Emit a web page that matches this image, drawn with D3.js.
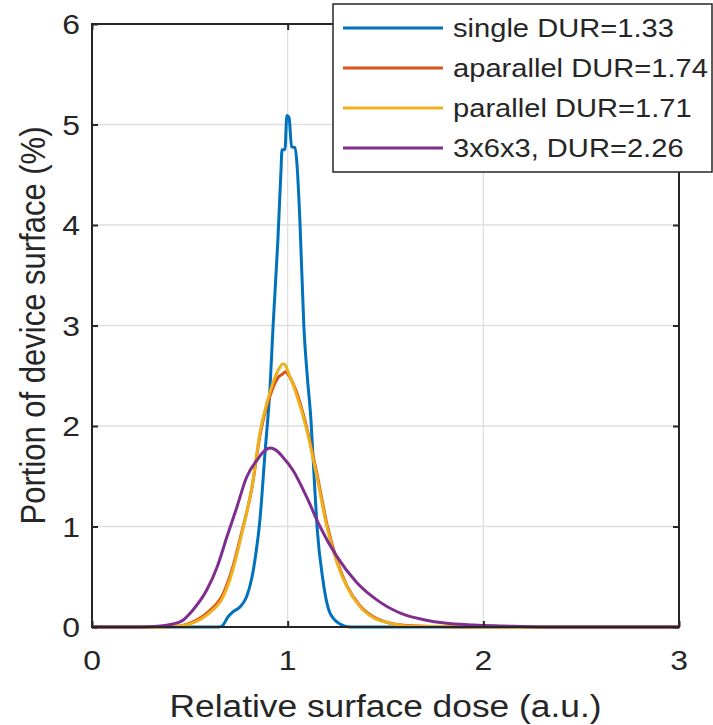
<!DOCTYPE html>
<html>
<head>
<meta charset="utf-8">
<script src="https://cdn.jsdelivr.net/npm/d3@7"></script>
<style>
  body { margin: 0; background: #fff; }
  svg text { font-family: "Liberation Sans", Arial, sans-serif; fill: #262626; }
</style>
</head>
<body>
<svg id="chart"></svg>
<script>
var margin = { top: 24, right: 34, bottom: 98, left: 92 },
    width = 713 - margin.left - margin.right,
    height = 725 - margin.top - margin.bottom;

// dose values (x) and portion (%) for each run
var singleX = [0, 0.65, 0.67, 0.695, 0.72, 0.756, 0.79, 0.817, 0.833, 0.858, 0.884, 0.91, 0.925, 0.95, 0.966, 0.971, 0.986, 0.996, 1.007, 1.02, 1.037, 1.047, 1.063, 1.083, 1.1, 1.119, 1.135, 1.15, 1.18, 1.216, 1.267, 1.32, 3];
var singleY = [0, 0, 0.02, 0.1, 0.15, 0.2, 0.3, 0.49, 0.67, 1.06, 1.73, 2.39, 2.98, 3.85, 4.55, 4.75, 4.75, 5.09, 5.07, 4.78, 4.77, 4.62, 4.02, 2.98, 2.5, 2.06, 1.5, 1.0, 0.47, 0.14, 0.03, 0, 0];

var aparX = [0, 0.35, 0.45, 0.516, 0.6, 0.67, 0.72, 0.766, 0.817, 0.858, 0.91, 0.95, 0.976, 0.99, 1.0, 1.037, 1.098, 1.15, 1.2, 1.252, 1.303, 1.37, 1.44, 1.52, 1.61, 1.75, 2.0, 3];
var aparY = [0, 0, 0.01, 0.05, 0.16, 0.33, 0.6, 0.95, 1.38, 1.9, 2.3, 2.48, 2.52, 2.54, 2.52, 2.38, 1.98, 1.52, 1.03, 0.66, 0.41, 0.21, 0.1, 0.04, 0.015, 0.005, 0, 0];

var parX = [0, 0.35, 0.45, 0.516, 0.6, 0.67, 0.72, 0.766, 0.817, 0.858, 0.91, 0.95, 0.976, 0.99, 1.0, 1.037, 1.098, 1.15, 1.2, 1.252, 1.303, 1.37, 1.44, 1.52, 1.61, 1.75, 2.0, 3];
var parY = [0, 0, 0.01, 0.04, 0.14, 0.3, 0.57, 0.93, 1.39, 1.93, 2.34, 2.55, 2.62, 2.6, 2.55, 2.36, 1.96, 1.49, 1.0, 0.64, 0.4, 0.2, 0.09, 0.04, 0.01, 0.004, 0, 0];

var gridX = [0, 0.25, 0.35, 0.45, 0.516, 0.587, 0.64, 0.69, 0.74, 0.79, 0.843, 0.88, 0.91, 0.94, 0.976, 1.027, 1.098, 1.165, 1.252, 1.354, 1.47, 1.6, 1.69, 1.8, 1.95, 2.1, 2.29, 3];
var gridY = [0, 0, 0.01, 0.05, 0.17, 0.37, 0.6, 0.9, 1.19, 1.49, 1.66, 1.75, 1.78, 1.76, 1.69, 1.56, 1.29, 1.0, 0.7, 0.44, 0.25, 0.12, 0.075, 0.04, 0.02, 0.01, 0, 0];

var names = ["single DUR=1.33", "aparallel DUR=1.74", "parallel DUR=1.71", "3x6x3, DUR=2.26"];
var colors = ["#0072bd", "#d95319", "#edb120", "#7e2f8e"];
var seriesX = [singleX, aparX, parX, gridX];
var seriesY = [singleY, aparY, parY, gridY];

var xTicks = [0, 1, 2, 3];
var yTicks = [0, 1, 2, 3, 4, 5, 6];

// the figure text is a bit wider than plain Arial
var stretch = 1.14;

var svg = d3.select("#chart")
    .attr("width", width + margin.left + margin.right)
    .attr("height", height + margin.top + margin.bottom);

var g = svg.append("g")
    .attr("transform", "translate(" + margin.left + "," + margin.top + ")");

var x = d3.scaleLinear().domain([0, 3]).range([0, width]);
var y = d3.scaleLinear().domain([0, 6]).range([height, 0]);

// grid
g.append("g").selectAll("line")
    .data(xTicks.slice(1, -1))
    .enter().append("line")
    .attr("x1", function(d) { return x(d); })
    .attr("x2", function(d) { return x(d); })
    .attr("y1", 0).attr("y2", height)
    .attr("stroke", "#dfdfdf").attr("stroke-width", 1.3);

g.append("g").selectAll("line")
    .data(yTicks.slice(1, -1))
    .enter().append("line")
    .attr("y1", function(d) { return y(d); })
    .attr("y2", function(d) { return y(d); })
    .attr("x1", 0).attr("x2", width)
    .attr("stroke", "#dfdfdf").attr("stroke-width", 1.3);

var line = d3.line()
    .curve(d3.curveMonotoneX)
    .x(function(d) { return x(d[0]); })
    .y(function(d) { return y(d[1]); });

seriesX.forEach(function(xs, i) {
    var pts = xs.map(function(v, j) { return [v, seriesY[i][j]]; });
    g.append("path")
        .datum(pts)
        .attr("d", line)
        .attr("fill", "none")
        .attr("stroke", colors[i])
        .attr("stroke-width", 3)
        .attr("stroke-linejoin", "round");
});

// axes with inward ticks on all sides, labels drawn separately
var ax = function(a) {
    a.select(".domain").remove();
    a.selectAll("line").attr("stroke", "#262626").attr("stroke-width", 2);
};

g.append("g").attr("transform", "translate(0," + height + ")")
    .call(d3.axisBottom(x).tickValues(xTicks).tickSize(-6).tickFormat(""))
    .call(ax);
g.append("g")
    .call(d3.axisTop(x).tickValues(xTicks).tickSize(-6).tickFormat(""))
    .call(ax);
g.append("g")
    .call(d3.axisLeft(y).tickValues(yTicks).tickSize(-6).tickFormat(""))
    .call(ax);
g.append("g").attr("transform", "translate(" + width + ",0)")
    .call(d3.axisRight(y).tickValues(yTicks).tickSize(-6).tickFormat(""))
    .call(ax);

g.append("g").selectAll("text")
    .data(xTicks)
    .enter().append("text")
    .attr("transform", function(d) { return "translate(" + x(d) + "," + (height + 43) + ") scale(" + stretch + ",1)"; })
    .attr("text-anchor", "middle")
    .style("font-size", "28px")
    .text(function(d) { return d; });

g.append("g").selectAll("text")
    .data(yTicks)
    .enter().append("text")
    .attr("transform", function(d) { return "translate(-12," + y(d) + ") scale(" + stretch + ",1)"; })
    .attr("text-anchor", "end")
    .attr("dy", "0.36em")
    .style("font-size", "28px")
    .text(function(d) { return d; });

g.append("rect")
    .attr("width", width).attr("height", height)
    .attr("fill", "none").attr("stroke", "#262626").attr("stroke-width", 2);

g.append("text")
    .attr("transform", "translate(" + (width / 2) + "," + (height + 90) + ") scale(" + stretch + ",1)")
    .attr("text-anchor", "middle")
    .style("font-size", "31px")
    .text("Relative surface dose (a.u.)");

g.append("text")
    .attr("transform", "translate(-47," + (height / 2) + ") scale(" + stretch + ",1) rotate(-90)")
    .attr("text-anchor", "middle")
    .style("font-size", "31px")
    .text("Portion of device surface (%)");

// legend
var leg = svg.append("g").attr("transform", "translate(333,4)");
leg.append("rect")
    .attr("width", 379).attr("height", 168)
    .attr("fill", "#fff").attr("stroke", "#262626").attr("stroke-width", 1.5);

var item = leg.selectAll(".item")
    .data(names)
    .enter().append("g")
    .attr("transform", function(d, i) { return "translate(0," + (24 + i * 40) + ")"; });

item.append("line")
    .attr("x1", 10).attr("x2", 110)
    .attr("stroke", function(d, i) { return colors[i]; })
    .attr("stroke-width", 3);

item.append("text")
    .attr("transform", "translate(120,0) scale(1.12,1)")
    .attr("dy", "0.35em")
    .style("font-size", "26px")
    .text(function(d) { return d; });
</script>
</body>
</html>
